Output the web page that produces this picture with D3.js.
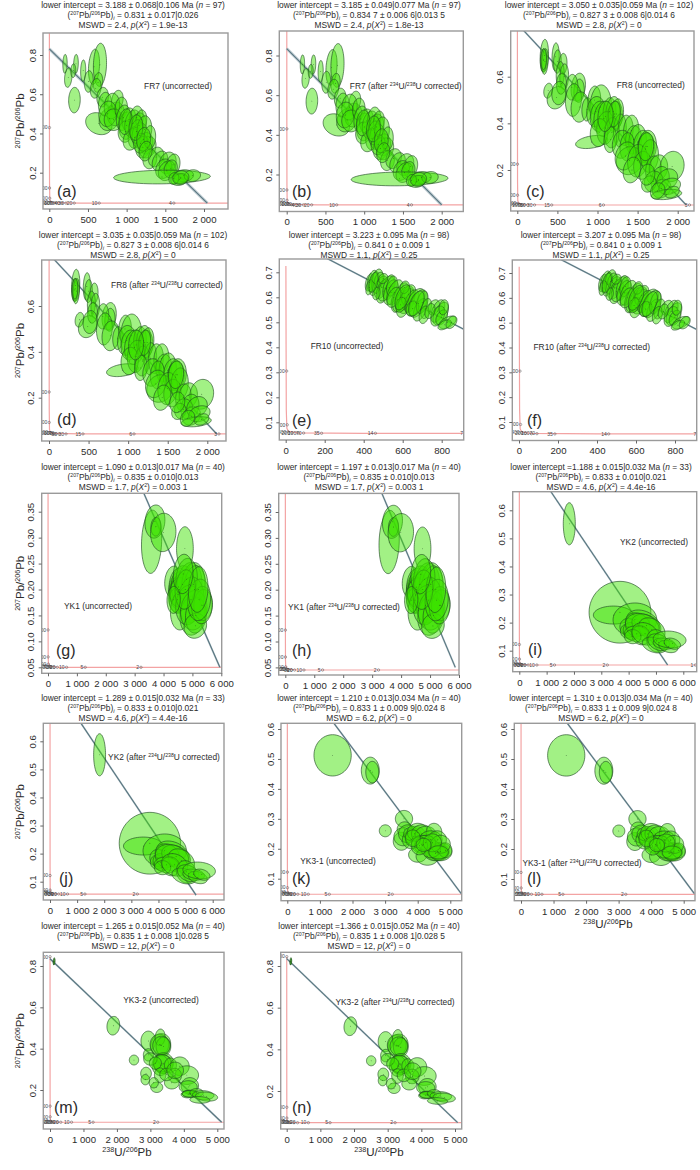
<!DOCTYPE html>
<html>
<head>
<meta charset="utf-8">
<title>Tera-Wasserburg plots</title>
<script src="https://cdn.jsdelivr.net/npm/d3@7/dist/d3.min.js"></script>
<style>
  html, body { margin: 0; padding: 0; background: #fff; }
  svg { display: block; }
  text { font-family: "Liberation Sans", Arial, sans-serif; fill: #2b2b2b; }
</style>
</head>
<body>
<svg id="mainsvg" width="700" height="1170"></svg>
<script>
// error ellipses: 238U/206Pb, 207Pb/206Pb, half width, half height, correlation
const fr7 = [
  [203,.755,28,.048,.1],[345,.755,30,.048,.1],[245,.685,48,.05,.2],[310,.72,32,.035,.1],[438,.72,33,.055,.1],
  [325,.57,75,.065,.05],[578,.74,72,.09,.2],[655,.75,85,.11,.1],[510,.665,58,.055,.1],[630,.66,60,.05,.2],
  [600,.63,70,.05,.2],[690,.585,75,.05,.1],[640,.45,170,.056,-.2],[780,.475,135,.06,.2],[720,.55,85,.06,.1],
  [860,.5,110,.06,.1],[880,.57,75,.05,.2],[810,.54,100,.065,.1],[755,.5,115,.065,.1],[830,.47,120,.055],
  [930,.53,80,.055,.1],[957,.48,90,.065,.2],[1000,.44,100,.07,.1],[1030,.47,90,.06,.1],[985,.41,95,.055,.1],
  [1080,.45,105,.07,.2],[1130,.48,85,.06,.1],[1160,.44,95,.065,.1],[1190,.47,70,.05,.1],[1100,.38,80,.055,.1],
  [1060,.37,105,.055,.2],[1170,.39,100,.065,.1],[1130,.41,80,.06,.15],[1230,.42,95,.07,.1],[1250,.35,90,.055,.1],
  [1210,.33,95,.055,.1],[1270,.33,110,.055,.2],[1180,.35,90,.05,.1],[1300,.38,75,.06,.1],[1300,.27,90,.05,.1],
  [1380,.28,100,.05,.2],[1430,.26,100,.05,.3],[1530,.25,110,.055,.2],[1600,.24,90,.055,.2],[1480,.22,105,.05,.2],
  [1520,.21,110,.05,.25],[1570,.22,85,.045,.2],[1457,.178,625,.035,.1],[1740,.185,125,.03,.1],[1680,.165,110,.03,.15],
  [1700,.17,90,.025,.1],[1610,.17,65,.03,.1],[1850,.185,105,.03,.1],[1700,.175,105,.035,.1],
  [985,.46,85,.065,.15],[1120,.43,90,.065,.1],[1220,.37,90,.06,.1],[1245,.31,85,.05,.15]
]
const fr8 = [
  [337,.69,52,.07,.15],[325,.67,38,.05,.1],[345,.665,40,.055,.2],[330,.675,35,.045,.1],[478,.685,45,.06,.1],
  [500,.665,48,.05,.1],[570,.655,50,.045,.1],[535,.61,50,.055,.1],[585,.6,55,.055,.1],[385,.54,55,.032,.2],
  [490,.51,118,.048,.2],[550,.57,62,.045,.1],[520,.53,90,.05,.1],[760,.555,90,.06,.2],[770,.54,65,.05,.1],
  [680,.555,75,.055,.1],[700,.5,100,.07,.1],[780,.47,110,.065,.1],[870,.46,65,.05,.1],[927,.32,200,.028,.35],
  [960,.5,80,.06,.1],[1040,.47,135,.095,.05],[980,.45,115,.065,.1],[1020,.43,110,.065,.1],[1080,.42,125,.075,.1],
  [1150,.45,80,.06,.1],[1195,.45,90,.065,.15],[1215,.43,95,.065,.15],[1240,.44,85,.065,.2],[1100,.38,110,.07,.1],
  [1020,.36,110,.06,.1],[1180,.36,95,.065,.1],[1280,.37,80,.07,.1],[1160,.33,80,.055,.1],[1350,.37,95,.065,.1],
  [1420,.37,95,.065,.1],[1300,.31,115,.06,.1],[1450,.33,100,.06,.1],[1500,.32,110,.075,.1],[1370,.3,90,.06,.1],
  [1560,.3,115,.07,.1],[1600,.29,110,.07,.15],[1400,.24,165,.06,.1],[1350,.26,130,.06,.2],[1620,.3,115,.07,.1],
  [1500,.24,125,.07,.1],[1560,.22,110,.06,.1],[1430,.2,110,.055,.2],[1650,.26,110,.07,.1],[1700,.2,100,.06,.1],
  [1760,.21,115,.055,.1],[1930,.215,150,.065,.1],[1780,.16,115,.055,.2],[1700,.15,115,.045,.1],[1640,.14,90,.035,.2],
  [1800,.12,115,.04,.2],[1870,.16,130,.045,.2],[1900,.13,135,.035,.25],[1860,.095,190,.022,.3],[1930,.105,90,.025,.3],
  [1750,.11,90,.035,.2],[1620,.18,95,.045,.1],[1210,.44,75,.055,.15],[1605,.3,95,.06,.1],[1100,.43,95,.065,.1]
]
const fr10 = [
  [430,.66,22,.035,.4],[445,.665,27,.043,.4],[455,.655,26,.048,.4],[470,.665,30,.048,.3],[480,.67,25,.03,.3],
  [490,.64,36,.045,.4],[500,.625,36,.048,.4],[515,.635,42,.05,.5],[530,.64,32,.05,.4],[540,.62,38,.05,.4],
  [545,.645,28,.04,.3],[560,.62,42,.05,.5],[575,.59,34,.05,.4],[590,.6,42,.058,.5],[610,.595,47,.05,.5],
  [620,.585,42,.05,.4],[600,.56,32,.04,.3],[630,.61,36,.04,.4],[645,.585,38,.045,.5],[665,.58,50,.055,.5],
  [680,.575,46,.055,.5],[690,.55,36,.045,.5],[650,.555,32,.03,.2],[700,.58,30,.045,.4],[720,.555,28,.04,.4],
  [710,.53,26,.035,.3],[760,.56,30,.03,.3],[780,.545,36,.045,.5],[795,.535,40,.045,.5],[780,.525,36,.04,.4],
  [800,.52,30,.03,.4],[810,.56,24,.03,.2],[830,.5,44,.025,.5],[815,.49,34,.02,.5],[850,.5,28,.025,.4],
  [610,.64,24,.025,.2],[500,.675,24,.02,.2],[555,.6,36,.04,.4],[465,.615,19,.025,.2],[740,.545,26,.03,.3],
  [430,.64,19,.03,.4],[590,.57,26,.03,.3],[450,.66,24,.04,.4],[600,.6,40,.05,.5],[670,.575,40,.05,.5]
]
const yk1 = [
  [3587,.292,350,.061,.1],[3702,.331,346,.032,.1],[3737,.321,175,.018,.05],[3990,.31,440,.037,.05],[4740,.279,290,.042],
  [4330,.215,290,.03,.1],[4540,.2,360,.034,.1],[4500,.19,320,.036,.05],[4520,.205,330,.036,.05],[4600,.195,380,.035,.1],
  [4650,.21,380,.036,.1],[4480,.18,290,.024,.05],[4530,.195,310,.028,.1],[4900,.21,430,.042,.1],[5030,.21,400,.042,.1],
  [5080,.2,390,.046,.1],[4800,.22,370,.04,.1],[4950,.18,450,.044,.1],[4600,.16,360,.038,.1],[5000,.15,430,.038,.1],
  [4850,.17,430,.038,.1],[5050,.16,460,.038,.1],[5120,.15,360,.034,.1],[5100,.13,390,.024,.1],[5370,.17,320,.03,.05],
  [5330,.17,360,.036,.05],[5230,.18,400,.04,.1],[4750,.2,350,.038,.1],[5200,.2,340,.044,.1],[4680,.23,340,.038,.1],
  [4350,.18,230,.026,.05]
]
const yk2 = [
  [1829,.552,220,.075],[3683,.237,1130,.11],[3440,.227,730,.032],[4230,.21,800,.06],[4530,.2,600,.045,-.3],
  [3980,.185,300,.03],[3950,.17,250,.025],[4080,.17,280,.03,-.1],[4330,.195,450,.04,-.2],[4650,.19,530,.04,-.3],
  [4500,.185,620,.048,-.2],[4850,.175,480,.042,-.3],[4300,.16,450,.028,-.1],[4450,.155,340,.034,-.1],[4150,.15,300,.025],
  [4600,.16,480,.04,-.2],[5020,.135,360,.04,-.1],[4950,.12,450,.028,-.3],[5100,.13,400,.03,-.3],[5300,.125,400,.02,-.2],
  [5450,.115,350,.022,-.3],[5500,.14,600,.03,-.1],[5600,.125,300,.02,-.3]
]
const yk31 = [
  [1390,.512,572,.069],[2546,.461,276,.045],[2607,.456,200,.036],[3006,.26,184,.02],[3579,.3,265,.028],
  [3500,.225,250,.03],[3600,.265,230,.025],[3550,.24,280,.03],[3700,.25,290,.03],[3800,.23,270,.03],
  [3880,.24,250,.03],[3900,.25,330,.025],[4000,.255,320,.03],[4130,.25,320,.03],[4250,.245,330,.03],
  [4500,.255,240,.03],[4400,.23,350,.03],[4600,.23,280,.03],[4130,.215,320,.03],[4150,.21,250,.025],
  [4000,.18,280,.025],[4300,.175,350,.03],[4600,.19,370,.03],[4620,.19,320,.025],[4550,.185,350,.025],
  [4700,.19,350,.03],[4850,.195,200,.025],[4400,.2,300,.03],[4250,.22,300,.025],[4700,.215,300,.03],
  [4050,.21,250,.03],[4450,.22,280,.03],[4640,.188,300,.022],[3850,.235,230,.028],[4180,.213,230,.022]
]
const yk32 = [
  [120,.823,25,.017,.3],[125,.82,22,.015,.3],[1892,.511,190,.045,.1],[2510,.345,140,.024],[2938,.437,220,.048],
  [3307,.418,300,.055,.1],[3270,.42,280,.05],[3290,.455,150,.04,.1],[3390,.41,220,.045],[3330,.415,260,.045],[3390,.33,300,.05],
  [3380,.325,280,.045],[3300,.32,250,.05],[3350,.33,260,.042],[2940,.37,150,.03],[3000,.35,200,.03],[3150,.33,180,.03],
  [3600,.32,180,.035],[3880,.315,280,.045],[4090,.272,350,.045],[3730,.27,200,.035],[3640,.235,220,.03],
  [3290,.272,170,.035],[2870,.28,160,.03],[2850,.25,130,.025],[3190,.213,180,.025],[3100,.235,140,.025],
  [3480,.275,200,.03],[4180,.22,260,.04],[4130,.215,270,.03],[4130,.18,210,.018,.1],[4200,.182,250,.017],[4170,.181,220,.016],
  [4380,.187,200,.02],[4580,.175,320,.022,-.1],[4680,.168,330,.022,-.2],[4480,.152,300,.016,-.1],[3740,.295,250,.04]
]

// concordia age ticks: x, y, age label
const ticksNearZero = [[13,.052,'400'],[32,.048,'200'],[64,.047,'100'],[92,.047,'70']]
const ticksFr7 = [[2,.43,'4000'],[3,.122,'2000'],[5,.07,'1000'],[161,.046,'40'],[215,.046,'30'],[322,.046,'20'],[645,.046,'10'],[1610,.046,'4']]
const ticksFr8 = [[2,.225,'3000'],[3,.092,'1500'],[128,.046,'50'],[215,.046,'30'],[429,.046,'15'],[1074,.046,'6'],[2147,.046,'3']]
const ticksFr10 = [[5,.305,'3500'],[8,.09,'1500'],[184,.05,'35'],[460,.05,'14'],[920,.05,'7']]
const ticksYk = [[3,.122,'2000'],[5,.07,'1000'],[215,.046,'30'],[322,.046,'20'],[644,.046,'10'],[1288,.046,'5'],[3220,.046,'2']]
const ticksYk2 = [[3,.122,'2000'],[5,.07,'1000'],[215,.046,'30'],[322,.046,'20'],[644,.046,'10'],[1288,.046,'5'],[3220,.046,'2'],[6440,.046,'1']]
const ticksYk32 = [[2,.845,'5000'],[3,.122,'2000'],[5,.07,'1000'],[215,.046,'30'],[322,.046,'20'],[644,.046,'10'],[1288,.046,'5'],[3220,.046,'2']]

const letters = ['(a)','(b)','(c)','(d)','(e)','(f)','(g)','(h)','(i)','(j)','(k)','(l)','(m)','(n)']
const datasets = [fr7,fr7,fr8,fr8,fr10,fr10,yk1,yk1,yk2,yk2,yk31,yk31,yk32,yk32]
const ageTicks = [ticksFr7,ticksFr7,ticksFr8,ticksFr8,ticksFr10,ticksFr10,ticksYk,ticksYk,ticksYk2,ticksYk,ticksYk,ticksYk,ticksYk32,ticksYk32]

const xTicks2000 = [0,500,1000,1500,2000]
const xTicks800 = [0,200,400,600,800]
const xTicks6000 = [0,1000,2000,3000,4000,5000,6000]
const xTicks5000 = [0,1000,2000,3000,4000,5000]
const xTickSets = [xTicks2000,xTicks2000,xTicks2000,xTicks2000,xTicks800,xTicks800,xTicks6000,xTicks6000,xTicks6000,xTicks6000,xTicks5000,xTicks5000,xTicks5000,xTicks5000]

const yTicksA = [.2,.4,.6,.8]
const yTicksC = [.2,.4,.6]
const yTicksE = [.1,.2,.3,.4,.5,.6,.7]
const yTicksG = [.05,.1,.15,.2,.25,.3,.35]
const yTicksI = [.1,.2,.3,.4,.5,.6]
const yTickSets = [yTicksA,yTicksA,yTicksC,yTicksC,yTicksE,yTicksE,yTicksG,yTicksG,yTicksI,yTicksI,yTicksI,yTicksI,yTicksA,yTicksA]

// concordia: value of the flat arm, top of the steep arm
const concFloor = [.045,.047,.05,.042,.056,.052,.05,.045,.049,.056,.048,.049,.044,.048]
const concTop = [1,1,1,1,.725,.725,1,1,1,1,1,1,.845,.845]
// discordia end points x0, y0, x1, y1
const discordia = [
  [0,.831,2043,.045],[0,.835,2000,.047],[0,.827,2104,.05],[0,.827,2118,.042],[0,.841,1943,.056],[0,.841,1950,.052],
  [3322,.385,5950,.05],[3336,.386,5872,.05],[1158,.666,5427,.049],[1144,.664,5387,.052],[1431,.619,5348,.048],[1424,.619,5328,.051],
  [0,.835,5130,.044],[0,.835,5079,.048]
]

const intercepts = [
  '= 3.188 ± 0.068|0.106','= 3.185 ± 0.049|0.077','= 3.050 ± 0.035|0.059','= 3.035 ± 0.035|0.059','= 3.223 ± 0.095','= 3.207 ± 0.095',
  '= 1.090 ± 0.013|0.017','= 1.197 ± 0.013|0.017','=1.188 ± 0.015|0.032','= 1.289 ± 0.015|0.032','= 1.210 ± 0.013|0.034','= 1.310 ± 0.013|0.034',
  '= 1.265 ± 0.015|0.052','=1.366 ± 0.015|0.052'
]
const sampleN = [97,97,102,102,98,98,40,40,33,33,40,40,40,40]
const initials = [
  '0.831 ± 0.017|0.026','0.834 7 ± 0.006 6|0.013 5','0.827 3 ± 0.008 6|0.014 6','0.827 3 ± 0.008 6|0.014 6','0.841 0 ± 0.009 1','0.841 0 ± 0.009 1',
  '0.835 ± 0.010|0.013','0.835 ± 0.010|0.013','0.833 ± 0.010|0.021','0.833 ± 0.010|0.021','0.833 1 ± 0.009 9|0.024 8','0.833 1 ± 0.009 9|0.024 8',
  '0.835 1 ± 0.008 1|0.028 5','0.835 1 ± 0.008 1|0.028 5'
]
const mswd = ['2.4','2.4','2.8','2.8','1.1','1.1','1.7','1.7','4.6','4.6','6.2','6.2','12','12']
const pValues = ['1.9e-13','1.8e-13','0','0','0.25','0.25','0.003 1','0.003 1','4.4e-16','4.4e-16','0','0','0','0']
const sampleNames = [
  'FR7 (uncorrected)','FR7 (after ^234^U/^238^U corrected)','FR8 (uncorrected)','FR8 (after ^234^U/^238^U corrected)',
  'FR10 (uncorrected)','FR10 (after ^234^U/^238^U corrected)','YK1 (uncorrected)','YK1 (after ^234^U/^238^U corrected)',
  'YK2 (uncorrected)','YK2 (after ^234^U/^238^U corrected)','YK3-1 (uncorrected)','YK3-1 (after ^234^U/^238^U corrected)',
  'YK3-2 (uncorrected)','YK3-2 (after ^234^U/^238^U corrected)'
]

// page layout, measured from the figure
// box x0,x1,y0,y1 | x tick a at px, tick b at px | y tick a at px, tick b at px
const layout = [
  {box:[43,228,33,209],xc:[0,49.3,2000,204],yc:[.8,55,.2,172.7],title:[133,5],name:[178,86],letter:[57,197]},
  {box:[279.3,463.3,31,211.5],xc:[0,286.7,2000,441.7],yc:[.8,55.5,.2,174.5],title:[369,5],name:[405.7,86],letter:[292,197]},
  {box:[510.7,694,31,211],xc:[0,517.3,2000,677.7],yc:[.6,76.7,.2,170],title:[599,5],name:[650.7,85],letter:[526,197]},
  {box:[41.7,226,260,441],xc:[0,49,2000,207.3],yc:[.6,306,.2,397.7],title:[133,235],name:[167,285],letter:[57,425]},
  {box:[279.3,463.7,259,440],xc:[0,285.7,800,441.7],yc:[.7,272.3,.1,422.3],title:[369,235],name:[347,345.7],letter:[292,426]},
  {box:[512.3,696.7,260,440.5],xc:[0,519,800,675],yc:[.7,273,.1,422],title:[601,235],name:[591.7,347],letter:[527,426]},
  {box:[41.7,221.7,493.3,673.3],xc:[0,48,6000,221.3],yc:[.35,511.7,.05,667.3],title:[133,466.7],name:[98,605.7],letter:[56,656]},
  {box:[278.7,459,493.4,675],xc:[0,285.3,6000,459],yc:[.35,512,.05,667.4],title:[369,466.7],name:[344,607],letter:[292,656]},
  {box:[512.7,696.7,491.7,671.7],xc:[0,519.3,6000,683.3],yc:[.6,510.3,.1,650.7],title:[601,466.7],name:[654,542],letter:[528,655]},
  {box:[43.3,224,723.3,900],xc:[0,50,6000,212.7],yc:[.6,741.3,.1,881.7],title:[133,698],name:[164,756.7],letter:[59,884]},
  {box:[281,461.7,723.3,900.7],xc:[0,287.3,5000,450.3],yc:[.6,729,.1,878.7],title:[369,698],name:[338,861],letter:[292,884]},
  {box:[514.3,695,723.3,900.7],xc:[0,521,5000,683.7],yc:[.6,729,.1,879],title:[601,698],name:[582,862.7],letter:[527,884]},
  {box:[43.3,224,952.3,1129],xc:[0,50,5000,217.3],yc:[.8,966,.2,1090],title:[133,926],name:[161,1000],letter:[54,1113]},
  {box:[280.7,461.7,952.3,1129],xc:[0,286.7,5000,455],yc:[.8,966,.2,1091],title:[369,926],name:[395,1002],letter:[292,1113]}
]
// panels with axis titles
const yTitled = [0,3,6,9,12]
const xTitled = {11:[608,924],12:[127,1152],13:[379,1152]}

const svg = d3.select('svg')
const spaced = d3.formatLocale({decimal:'.', thousands:'\u00a0', grouping:[3], currency:['','']}).format(',d')
const angles = d3.range(0, 65).map(i => i / 64 * 2 * Math.PI)

// small markup: ^sup^  _sub_  *italic*
function addRich(text, str, size) {
  const parts = str.split(/(\^[^^]+\^|_[^_]+_|\*[^*]+\*)/).filter(s => s !== '')
  let shift = 0
  parts.forEach(p => {
    const kind = p[0]
    const ts = text.append('tspan')
    let dy = 0
    if (kind === '^') {
      ts.text(p.slice(1, -1)).attr('font-size', size * 0.62); dy = -size * 0.38
    } else if (kind === '_') {
      ts.text(p.slice(1, -1)).attr('font-size', size * 0.7).attr('font-style', 'italic'); dy = size * 0.22
    } else if (kind === '*') {
      ts.text(p.slice(1, -1)).attr('font-style', 'italic')
    } else {
      ts.text(p)
    }
    ts.attr('dy', dy - shift)
    shift = dy
  })
}

layout.forEach((p, i) => {
  const [bx0, bx1, by0, by1] = p.box
  const x = d3.scaleLinear().domain([p.xc[0], p.xc[2]]).range([p.xc[1], p.xc[3]])
  const y = d3.scaleLinear().domain([p.yc[0], p.yc[2]]).range([p.yc[1], p.yc[3]])
  const g = svg.append('g')

  svg.append('clipPath').attr('id', 'clip' + i)
    .append('rect').attr('x', bx0).attr('y', by0).attr('width', bx1 - bx0).attr('height', by1 - by0)
  const plot = g.append('g').attr('clip-path', `url(#clip${i})`)

  // concordia
  const floor = concFloor[i]
  const conc = [[1, concTop[i]], [2, .4], [3, .15], [6, floor + .02], [14, floor + .008], [60, floor + .002], [400, floor], [8000, floor]]
  plot.append('path')
    .attr('d', d3.line().x(d => x(d[0])).y(d => y(d[1]))(conc))
    .attr('fill', 'none').attr('stroke', '#f3a3a3').attr('stroke-width', 1.2)

  // discordia with its error band
  const [lx0, ly0, lx1, ly1] = discordia[i]
  plot.append('line').attr('x1', x(lx0)).attr('y1', y(ly0)).attr('x2', x(lx1)).attr('y2', y(ly1))
    .attr('stroke', '#a9bcc4').attr('stroke-width', i < 2 ? 3 : 1.8).attr('opacity', .7)
  plot.append('line').attr('x1', x(lx0)).attr('y1', y(ly0)).attr('x2', x(lx1)).attr('y2', y(ly1))
    .attr('stroke', '#58757f').attr('stroke-width', 1.1)

  // error ellipses
  const outline = d => d3.line()
    .x(t => x(d[0] + d[2] * Math.cos(t)))
    .y(t => y(d[1] + d[3] * Math.cos(t - Math.acos(d[4] || 0))))(angles)
  plot.selectAll('path.ell').data(datasets[i]).join('path')
    .attr('class', 'ell')
    .attr('d', outline)
    .attr('fill', 'rgb(60,225,0)').attr('fill-opacity', .48)
    .attr('stroke', '#1f4a22').attr('stroke-opacity', .85).attr('stroke-width', .75)
  plot.selectAll('circle.mid').data(datasets[i]).join('circle')
    .attr('class', 'mid')
    .attr('cx', d => x(d[0])).attr('cy', d => y(d[1])).attr('r', .4).attr('fill', '#1d3a1d')

  // age ticks on the concordia
  const floorTicks = ticksNearZero.map(d => [d[0], floor + (d[1] - .046), d[2]])
  const ticks = floorTicks.concat(ageTicks[i].map(d => [d[0], d[1] < .06 ? floor : d[1], d[2]]))
  plot.selectAll('circle.age').data(ticks).join('circle')
    .attr('class', 'age')
    .attr('cx', d => x(d[0])).attr('cy', d => y(d[1])).attr('r', 1.2)
    .attr('fill', 'none').attr('stroke', '#555').attr('stroke-width', .5)
  plot.selectAll('text.age').data(ticks).join('text')
    .attr('class', 'age')
    .attr('x', d => x(d[0]) - 2).attr('y', d => y(d[1]) + 1.8)
    .attr('text-anchor', 'end').attr('font-size', 5).style('fill', '#444')
    .text(d => d[2])

  // frame
  g.append('rect').attr('x', bx0).attr('y', by0).attr('width', bx1 - bx0).attr('height', by1 - by0)
    .attr('fill', 'none').attr('stroke', '#9a9a9a').attr('stroke-width', 1.4)

  // axes
  const xAxis = g.append('g').attr('transform', `translate(0,${by1})`)
    .call(d3.axisBottom(x).tickValues(xTickSets[i]).tickSize(3).tickPadding(4).tickFormat(spaced))
  const dec = yTickSets[i] === yTicksG ? '.2f' : '.1f'
  const yAxis = g.append('g').attr('transform', `translate(${bx0},0)`)
    .call(d3.axisLeft(y).tickValues(yTickSets[i]).tickSize(3).tickFormat(d3.format(dec)))
  xAxis.select('.domain').remove()
  yAxis.select('.domain').remove()
  xAxis.selectAll('line').attr('stroke', '#666')
  yAxis.selectAll('line').attr('stroke', '#666')
  xAxis.selectAll('text').attr('font-size', 9.6).attr('font-family', null)
  yAxis.selectAll('text').attr('font-size', 9.6).attr('font-family', null)
    .attr('text-anchor', 'middle').attr('x', null).attr('dy', null)
    .attr('transform', 'translate(-7.5,0) rotate(-90)')

  // title block
  const titleLines = [
    `lower intercept ${intercepts[i]} Ma (*n* = ${sampleN[i]})`,
    `(^207^Pb/^206^Pb)_i_ = ${initials[i]}`,
    `MSWD = ${mswd[i]}, *p*(*X*^2^) = ${pValues[i]}`
  ]
  titleLines.forEach((line, k) => {
    const t = g.append('text').attr('x', p.title[0]).attr('y', p.title[1] + 3.2 + k * 10.1)
      .attr('text-anchor', 'middle').attr('font-size', 8.4)
    addRich(t, line, 8.4)
  })

  const nameText = g.append('text').attr('x', p.name[0]).attr('y', p.name[1] + 3)
    .attr('text-anchor', 'middle').attr('font-size', 8.4)
  addRich(nameText, sampleNames[i], 8.4)

  g.append('text').attr('x', p.letter[0]).attr('y', p.letter[1]).attr('font-size', 16).text(letters[i])

  if (yTitled.includes(i)) {
    const cy = (by0 + by1) / 2
    const t = g.append('text').attr('transform', `translate(24,${cy}) rotate(-90)`)
      .attr('text-anchor', 'middle').attr('font-size', 11.5)
    addRich(t, '^207^Pb/^206^Pb', 11.5)
  }
  if (xTitled[i]) {
    const t = g.append('text').attr('x', xTitled[i][0]).attr('y', xTitled[i][1] + 4)
      .attr('text-anchor', 'middle').attr('font-size', 11.5)
    addRich(t, '^238^U/^206^Pb', 11.5)
  }
})
</script>
</body>
</html>
